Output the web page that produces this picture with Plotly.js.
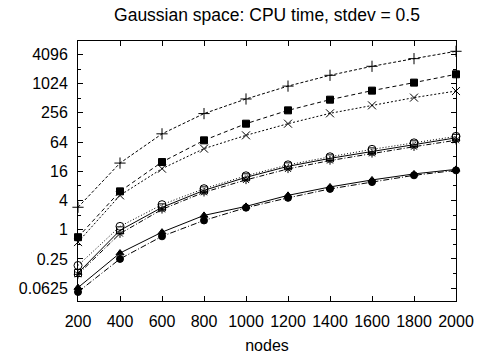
<!DOCTYPE html>
<html>
<head>
<meta charset="utf-8">
<script src="https://cdn.plot.ly/plotly-3.0.1.min.js"></script>
<style>html,body{margin:0;padding:0;background:#fff}#chart{width:479px;height:356px}</style>
</head>
<body>
<div id="chart"></div>
<script>
const nodes = [200, 400, 600, 800, 1000, 1200, 1400, 1600, 1800, 2000];
const seriesPlus     = [2.9, 23.6, 94.5, 247, 494, 910, 1520, 2330, 3350, 4750];
const seriesSquareF  = [0.70, 6.16, 24.8, 69.4, 153, 288, 478, 734, 1074, 1594];
const seriesX        = [0.555, 5.1, 18.1, 46.8, 88, 153, 250, 365, 527, 720];
const seriesCircleO  = [0.183, 1.17, 3.28, 7.0, 12.9, 21.7, 31.8, 45.3, 61.6, 83.9];
const seriesSquareO  = [0.128, 0.97, 2.88, 6.46, 12.0, 20.2, 29.5, 41.1, 57.4, 78.2];
const seriesStar     = [0.12, 0.83, 2.62, 5.9, 10.6, 17.9, 26.6, 37.3, 51.3, 69.7];
const seriesTriangle = [0.064, 0.33, 0.89, 1.97, 3.02, 5.1, 7.6, 10.6, 14.1, 17.5];
const seriesCircleF  = [0.052, 0.25, 0.73, 1.55, 2.84, 4.53, 6.93, 9.58, 13.2, 16.7];
const yTickVals = [0.0625, 0.25, 1, 4, 16, 64, 256, 1024, 4096];
const yTickText = ["0.0625", "0.25", "1", "4", "16", "64", "256", "1024", "4096"];
const yMinorVals = [0.125, 0.5, 2, 8, 32, 128, 512, 2048];
const titleText = "Gaussian space: CPU time, stdev = 0.5";
const xTitle = "nodes";

function tr(y, symbol, size, dash) {
  return {
    x: nodes, y: y, type: 'scatter', mode: 'lines+markers', cliponaxis: false,
    line: {color: 'black', width: 1, dash: dash},
    marker: {symbol: symbol, size: size, color: 'black',
             line: {color: 'black', width: 1}},
    showlegend: false, hoverinfo: 'skip'
  };
}
const data = [
  tr(seriesPlus, 'cross-thin-open', 8, '3px,2px'),
  tr(seriesSquareF, 'square', 7, '4px,3px'),
  tr(seriesX, 'x-thin-open', 8, '2px,2px'),
  tr(seriesCircleO, 'circle-open', 8, '1px,2px'),
  tr(seriesSquareO, 'square-open', 7, 'solid'),
  tr(seriesStar, 'asterisk-open', 7, '5px,2px,1px,2px'),
  tr(seriesTriangle, 'triangle-up', 7, 'solid'),
  tr(seriesCircleF, 'circle', 7, '6px,2px,1px,2px')
];
const font = {family: 'Liberation Sans, Arial, sans-serif', size: 16, color: 'black'};
const layout = {
  width: 479, height: 356,
  margin: {l: 78, r: 23, t: 41, b: 55, pad: 0},
  paper_bgcolor: 'white', plot_bgcolor: 'white',
  font: font,
  title: {text: titleText, font: {family: font.family, size: 17.5, color: 'black'},
          x: 0.5, xref: 'paper', y: 1 - 14.5/356, yref: 'container', yanchor: 'middle'},
  xaxis: {
    range: [200, 2000], tickvals: nodes, ticktext: nodes.map(String),
    ticks: 'inside', ticklen: 5, tickcolor: 'black', tickwidth: 1,
    showline: true, linecolor: 'black', linewidth: 1, mirror: 'ticks',
    showgrid: false, zeroline: false,
    tickfont: font, ticklabelstandoff: 6,
    title: {text: xTitle, font: font, standoff: 10}
  },
  yaxis: {
    type: 'log', range: [Math.log10(0.0339), Math.log10(7740)],
    tickvals: yTickVals, ticktext: yTickText,
    ticks: 'inside', ticklen: 5, tickcolor: 'black', tickwidth: 1,
    minor: {tickvals: yMinorVals, ticks: 'inside', ticklen: 3, tickcolor: 'black', showgrid: false},
    showline: true, linecolor: 'black', linewidth: 1, mirror: 'ticks',
    showgrid: false, zeroline: false,
    tickfont: font, ticklabelstandoff: 6
  }
};
Plotly.newPlot('chart', data, layout, {staticPlot: true, displayModeBar: false});
</script>
</body>
</html>
